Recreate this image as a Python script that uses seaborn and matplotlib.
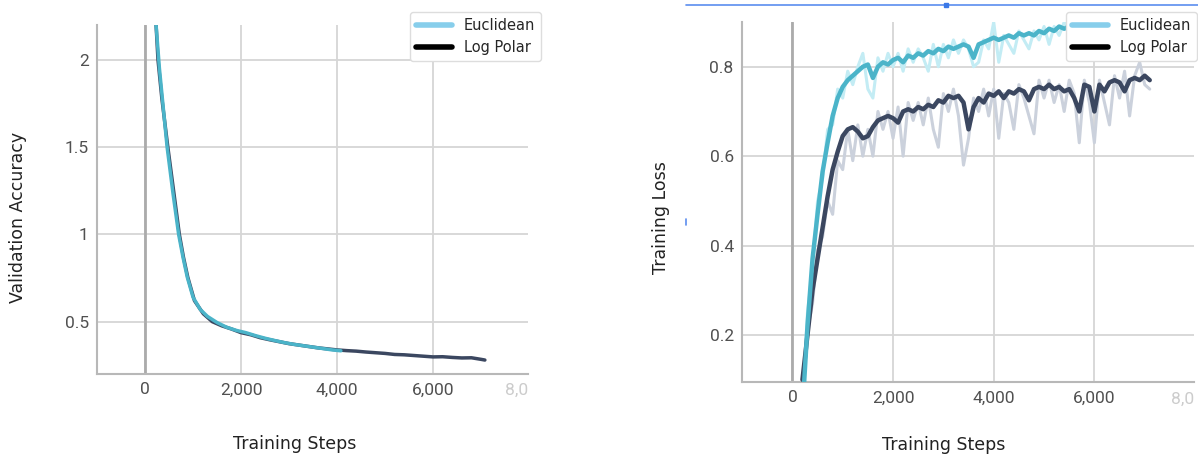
import numpy as np
import pandas as pd
import matplotlib
matplotlib.use('Agg')
import matplotlib.pyplot as plt
import seaborn as sns
from matplotlib.lines import Line2D
from matplotlib.ticker import FuncFormatter

# 데이터
# 왼쪽: Validation Accuracy
val_steps_logpolar = [230, 270, 350, 475, 600, 715, 800, 890, 1030, 1215, 1400, 1600, 1800, 2000,
                      2200, 2400, 2600, 2800, 3000, 3200, 3400, 3600, 3800, 4000, 4200, 4400, 4600,
                      4800, 5000, 5200, 5400, 5600, 5800, 6000, 6200, 6400, 6600, 6800, 7000, 7080]
val_logpolar = [2.2, 2.0, 1.78, 1.5, 1.24, 1.0, 0.87, 0.755, 0.62, 0.545, 0.50, 0.476, 0.458, 0.437,
                0.425, 0.408, 0.396, 0.385, 0.374, 0.366, 0.358, 0.350, 0.344, 0.338, 0.334, 0.331, 0.326,
                0.322, 0.318, 0.312, 0.310, 0.306, 0.302, 0.298, 0.299, 0.295, 0.292, 0.293, 0.284, 0.280]
val_steps_euclid = [230, 300, 460, 580, 700, 790, 880, 1000, 1150, 1300, 1500, 1700, 1900, 2100, 2300,
                    2500, 2700, 2900, 3100, 3300, 3500, 3700, 3900, 4080]
val_euclid = [2.2, 1.95, 1.5, 1.24, 1.0, 0.87, 0.755, 0.64, 0.57, 0.53, 0.495, 0.468, 0.45, 0.437, 0.42,
              0.405, 0.392, 0.38, 0.37, 0.362, 0.354, 0.346, 0.338, 0.333]

# 오른쪽: Training Loss (원본 + 스무딩)
train_steps_logpolar = list(range(200, 7101, 100))
train_logpolar_smooth = [0.10, 0.20, 0.30, 0.37, 0.44, 0.51, 0.57, 0.61, 0.645, 0.66, 0.665, 0.655, 0.64, 0.645,
                         0.665, 0.68, 0.685, 0.69, 0.685, 0.675, 0.70, 0.705, 0.70, 0.71, 0.705, 0.715, 0.71,
                         0.725, 0.72, 0.735, 0.73, 0.735, 0.72, 0.66, 0.71, 0.73, 0.72, 0.74, 0.735, 0.745,
                         0.73, 0.745, 0.74, 0.75, 0.745, 0.725, 0.75, 0.755, 0.75, 0.76, 0.75, 0.755, 0.745,
                         0.75, 0.73, 0.70, 0.76, 0.755, 0.70, 0.76, 0.745, 0.765, 0.77, 0.765, 0.745, 0.77,
                         0.775, 0.77, 0.78, 0.77]
train_logpolar_raw = [0.09, 0.21, 0.27, 0.39, 0.42, 0.50, 0.47, 0.59, 0.57, 0.66, 0.59, 0.67, 0.60, 0.66,
                      0.60, 0.70, 0.66, 0.70, 0.64, 0.71, 0.60, 0.72, 0.68, 0.72, 0.67, 0.73, 0.66, 0.62,
                      0.74, 0.70, 0.75, 0.69, 0.58, 0.64, 0.73, 0.70, 0.75, 0.69, 0.75, 0.64, 0.74, 0.72,
                      0.66, 0.76, 0.73, 0.69, 0.65, 0.77, 0.73, 0.77, 0.72, 0.76, 0.70, 0.77, 0.74, 0.63,
                      0.77, 0.72, 0.63, 0.77, 0.72, 0.67, 0.78, 0.73, 0.79, 0.69, 0.78, 0.81, 0.76, 0.75]
train_steps_euclid = list(range(200, 5901, 100))
train_euclid_smooth = [0.03, 0.22, 0.37, 0.47, 0.565, 0.63, 0.69, 0.73, 0.755, 0.77, 0.78, 0.79, 0.80, 0.805,
                       0.775, 0.80, 0.81, 0.805, 0.815, 0.82, 0.81, 0.825, 0.82, 0.83, 0.825, 0.835, 0.83,
                       0.84, 0.835, 0.845, 0.84, 0.845, 0.85, 0.845, 0.82, 0.85, 0.855, 0.86, 0.865, 0.86,
                       0.865, 0.87, 0.865, 0.875, 0.87, 0.875, 0.87, 0.88, 0.875, 0.885, 0.88, 0.89, 0.885,
                       0.89, 0.895, 0.89, 0.895, 0.89]
train_euclid_raw = [0.05, 0.25, 0.35, 0.50, 0.55, 0.66, 0.67, 0.75, 0.73, 0.79, 0.76, 0.80, 0.83, 0.75,
                    0.73, 0.82, 0.79, 0.83, 0.80, 0.83, 0.79, 0.84, 0.81, 0.84, 0.82, 0.79, 0.85, 0.80,
                    0.85, 0.82, 0.86, 0.83, 0.86, 0.84, 0.80, 0.81, 0.86, 0.84, 0.90, 0.81, 0.87, 0.85,
                    0.83, 0.88, 0.86, 0.84, 0.88, 0.86, 0.89, 0.85, 0.89, 0.87, 0.90, 0.88, 0.90, 0.89,
                    0.91, 0.90]

x_ticks = [0, 2000, 4000, 6000]
legend_labels = ['Euclidean', 'Log Polar']

# 색상
c_euclid = '#4bb4c9'
c_logpolar = '#3b4760'
c_euclid_raw = '#c3ecf4'
c_logpolar_raw = '#cbd1dc'

sns.set_theme(style='whitegrid')
plt.rcParams['font.family'] = ['DejaVu Sans']

fig = plt.figure(figsize=(11.98, 4.58), dpi=100)
ax1 = fig.add_axes([0.0810, 0.1834, 0.3598, 0.762])
ax2 = fig.add_axes([0.6194, 0.1659, 0.3773, 0.786])

# 왼쪽 그래프
sns.lineplot(x=val_steps_logpolar, y=val_logpolar, ax=ax1, color=c_logpolar, lw=2.5, zorder=3)
sns.lineplot(x=val_steps_euclid, y=val_euclid, ax=ax1, color=c_euclid, lw=2.5, zorder=4)
ax1.set_ylim(0.2, 2.2)
ax1.set_yticks([0.5, 1, 1.5, 2])

# 오른쪽 그래프
sns.lineplot(x=train_steps_logpolar, y=train_logpolar_raw, ax=ax2, color=c_logpolar_raw, lw=2.2, zorder=2)
sns.lineplot(x=train_steps_euclid, y=train_euclid_raw, ax=ax2, color=c_euclid_raw, lw=2.2, zorder=2)
sns.lineplot(x=train_steps_logpolar, y=train_logpolar_smooth, ax=ax2, color=c_logpolar, lw=3.2, zorder=3)
sns.lineplot(x=train_steps_euclid, y=train_euclid_smooth, ax=ax2, color=c_euclid, lw=3.2, zorder=4)
ax2.set_ylim(0.095, 0.9)
ax2.set_yticks([0.2, 0.4, 0.6, 0.8])

for ax, ylab, xl, yl in [(ax1, 'Validation Accuracy', (0.459, -0.175), (-0.162, 0.45)),
                         (ax2, 'Training Loss', (0.447, -0.15), (-0.159, 0.458))]:
    ax.set_xlim(-1000, 7980)
    ax.set_xticks(x_ticks)
    ax.xaxis.set_major_formatter(FuncFormatter(lambda v, p: f'{v:,.0f}'))
    ax.yaxis.set_major_formatter(FuncFormatter(lambda v, p: f'{v:g}'))
    ax.grid(True, color='#d6d6d6', lw=1.3)
    ax.axvline(0, color='#ababab', lw=2, zorder=1)
    for s in ['top', 'right']:
        ax.spines[s].set_visible(False)
    for s in ['left', 'bottom']:
        ax.spines[s].set_color('#b8b8b8')
        ax.spines[s].set_linewidth(1.5)
    ax.tick_params(labelsize=12.5, labelcolor='#505050', pad=6, length=0)
    for lbl in ax.get_xticklabels() + ax.get_yticklabels():
        lbl.set_fontfamily('Roboto')
    ax.text(7980, -0.026, '8,0', transform=ax.get_xaxis_transform(), ha='right', va='top',
            fontsize=12.5, color='#cccccc', family='Roboto')
    ax.set_xlabel('Training Steps', fontsize=12.5, color='#222222')
    ax.set_ylabel(ylab, fontsize=12.5, color='#222222')
    ax.xaxis.set_label_coords(*xl)
    ax.yaxis.set_label_coords(*yl)

# 범례
handles = [Line2D([0], [0], color='#87ceeb', lw=4), Line2D([0], [0], color='black', lw=4)]
for right_px in [541, 1197]:
    leg = fig.legend(handles, legend_labels, loc='upper right',
                     bbox_to_anchor=(right_px / 1198, 1 - 12 / 458), bbox_transform=fig.transFigure,
                     borderaxespad=0, fontsize=10.5, handlelength=2.5, frameon=True, fancybox=True)
    leg.get_frame().set_edgecolor('#dddddd')
    leg.get_frame().set_alpha(1)

# 스크린샷 선택 테두리 (파란 선)
fig.add_artist(Line2D([686 / 1198, 1.0], [1 - 5 / 458] * 2, color='#5b8def', lw=1.2,
                      transform=fig.transFigure))
fig.add_artist(Line2D([946 / 1198], [1 - 5 / 458], color='#3b78e7', marker='s', markersize=3,
                      transform=fig.transFigure))
fig.add_artist(Line2D([686 / 1198] * 2, [1 - 219 / 458, 1 - 225 / 458], color='#5b8def', lw=1.2,
                      transform=fig.transFigure))

fig.savefig('out.png', dpi=100)
